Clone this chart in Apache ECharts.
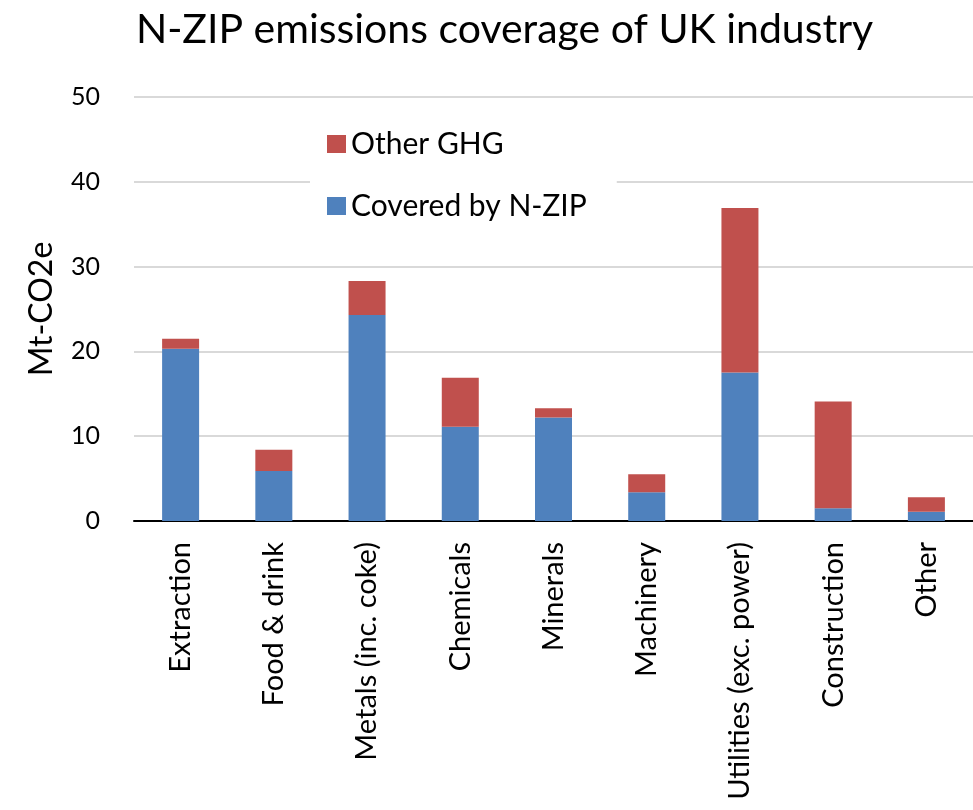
<!DOCTYPE html>
<html>
<head>
<meta charset="utf-8">
<script src="https://cdn.jsdelivr.net/npm/echarts@6/dist/echarts.min.js"></script>
<style>
  html, body { margin: 0; padding: 0; background: #ffffff; }
  #chart { width: 973px; height: 810px; }
</style>
</head>
<body>
<div id="chart"></div>
<script>
// Sector categories
const sectors = ['Extraction', 'Food & drink', 'Metals (inc. coke)', 'Chemicals', 'Minerals',
                 'Machinery', 'Utilities (exc. power)', 'Construction', 'Other'];
// Emissions covered by N-ZIP (Mt-CO2e)
const coveredByNZIP = [20.3, 5.9, 24.3, 11.1, 12.2, 3.4, 17.5, 1.5, 1.1];
// Remaining greenhouse gas emissions (Mt-CO2e)
const otherGHG = [1.2, 2.5, 4.0, 5.8, 1.1, 2.1, 19.4, 12.6, 1.7];
// Value axis ticks
const yTicks = { min: 0, max: 50, interval: 10 };

const FONT = 'Lato';
const chart = echarts.init(document.getElementById('chart'), null, { renderer: 'canvas' });

chart.setOption({
  backgroundColor: '#ffffff',
  animation: false,
  textStyle: { fontFamily: FONT, color: '#000000' },
  title: {
    text: 'N-ZIP emissions coverage of UK industry',
    left: 131,
    top: 4,
    textStyle: { fontFamily: FONT, fontSize: 41, fontWeight: 'normal', color: '#000000' }
  },
  legend: {
    orient: 'vertical',
    left: 310,
    top: 117,
    data: ['Other GHG', 'Covered by N-ZIP'],
    backgroundColor: '#ffffff',
    padding: [10, 30, 10, 17],
    itemGap: 28,
    itemWidth: 19,
    itemHeight: 18,
    icon: 'rect',
    textStyle: { fontFamily: FONT, fontSize: 30, color: '#000000', lineHeight: 34 }
  },
  grid: { left: 134, right: 0, top: 97, bottom: 289, containLabel: false },
  xAxis: {
    type: 'category',
    data: sectors,
    axisLine: { lineStyle: { color: '#000000', width: 2 } },
    axisTick: { show: false },
    axisLabel: {
      rotate: 90,
      interval: 0,
      margin: 21,
      fontFamily: FONT,
      fontSize: 29,
      color: '#000000'
    }
  },
  yAxis: {
    type: 'value',
    min: yTicks.min,
    max: yTicks.max,
    interval: yTicks.interval,
    name: 'Mt-CO2e',
    nameLocation: 'middle',
    nameGap: 76,
    nameRotate: 90,
    nameTextStyle: { fontFamily: FONT, fontSize: 32, color: '#000000' },
    axisLine: { show: false },
    axisTick: { show: false },
    axisLabel: { margin: 34, fontFamily: FONT, fontSize: 25, color: '#000000' },
    splitLine: { lineStyle: { color: '#d9d9d9', width: 2 } }
  },
  series: [
    {
      name: 'Covered by N-ZIP',
      type: 'bar',
      stack: 'total',
      barWidth: 37,
      itemStyle: { color: '#4f81bd' },
      data: coveredByNZIP,
      z: 1
    },
    {
      name: 'Other GHG',
      type: 'bar',
      stack: 'total',
      barWidth: 37,
      itemStyle: { color: '#c0504d' },
      data: otherGHG,
      z: 1
    }
  ]
});
</script>
</body>
</html>
